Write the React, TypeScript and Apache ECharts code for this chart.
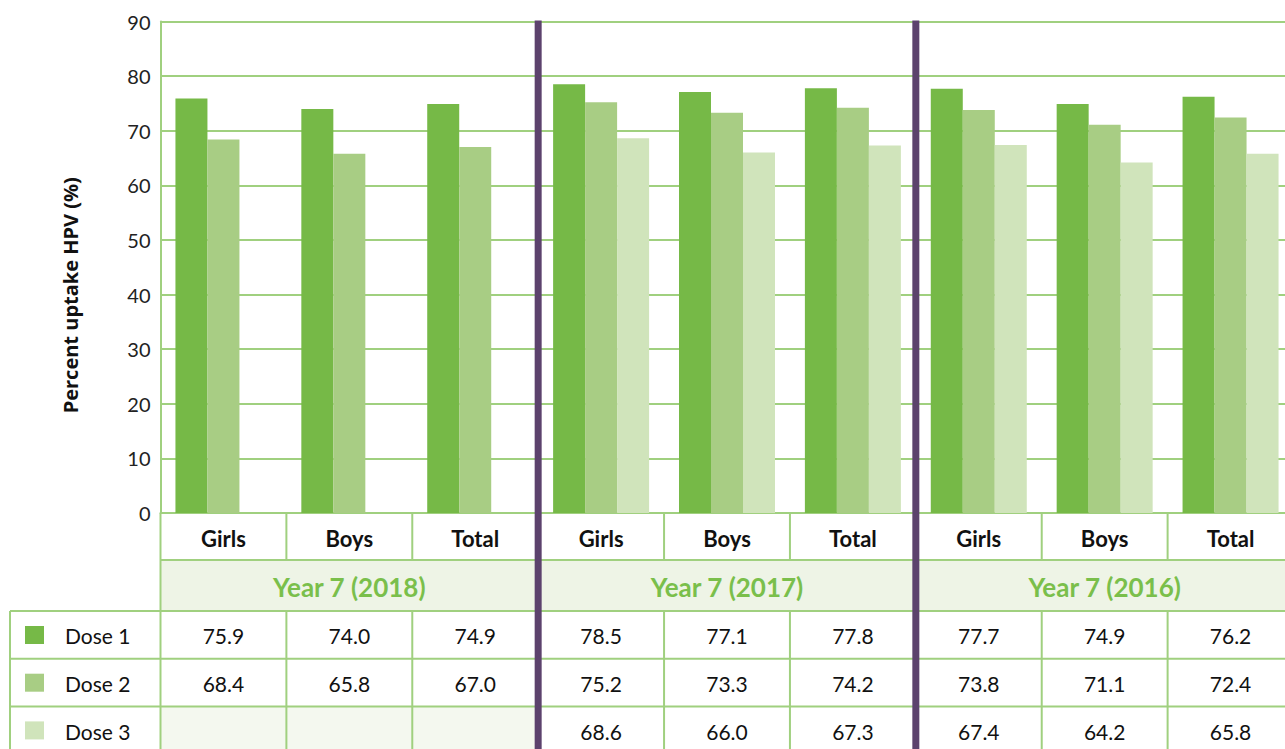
import React, { useEffect, useRef } from "react";
import * as echarts from "echarts";

const categories = ["Girls", "Boys", "Total", "Girls", "Boys", "Total", "Girls", "Boys", "Total"];
const years = ["Year 7 (2018)", "Year 7 (2017)", "Year 7 (2016)"];
const doseNames = ["Dose 1", "Dose 2", "Dose 3"];
const dose1 = [75.9, 74.0, 74.9, 78.5, 77.1, 77.8, 77.7, 74.9, 76.2];
const dose2 = [68.4, 65.8, 67.0, 75.2, 73.3, 74.2, 73.8, 71.1, 72.4];
const dose3 = [null, null, null, 68.6, 66.0, 67.3, 67.4, 64.2, 65.8];
const yMin = 0;
const yMax = 90;
const yInterval = 10;
const yTitle = "Percent uptake HPV (%)";

const doseData = [dose1, dose2, dose3];
const doseColors = ["#76b947", "#a8cd84", "#d0e4bb"];
const gridColor = "#a0d07f";
const purple = "#5c426d";
const FONT = "Lato";

export default function App() {
  const ref = useRef<HTMLDivElement>(null);
  useEffect(() => {
    const chart = echarts.init(ref.current!, null, { renderer: "svg" });
    const option: any = {
      animation: false,
      backgroundColor: "#ffffff",
      grid: { left: 160.5, top: 21.5, width: 1133, height: 491.5, containLabel: false },
      xAxis: {
        type: "category",
        data: categories,
        axisLine: { show: true, lineStyle: { color: gridColor, width: 2 } },
        axisTick: { show: false },
        axisLabel: {
          show: true,
          interval: 0,
          margin: 25,
          verticalAlign: "middle",
          fontFamily: FONT,
          fontWeight: "bold",
          fontSize: 22,
          color: "#111",
        },
        splitLine: { show: false },
      },
      yAxis: {
        type: "value",
        min: yMin,
        max: yMax,
        interval: yInterval,
        axisLine: { show: true, lineStyle: { color: gridColor, width: 2 } },
        axisTick: { show: false },
        axisLabel: { fontFamily: FONT, fontSize: 20, color: "#222", margin: 10 },
        splitLine: { show: true, lineStyle: { color: gridColor, width: 2 } },
      },
      series: doseNames.map((name, k) => ({
        name,
        type: "bar",
        data: doseData[k],
        barWidth: 32,
        barGap: "0%",
        itemStyle: { color: doseColors[k] },
        z: 2,
      })),
    };
    chart.setOption(option);

    const px = (i: number) => chart.convertToPixel({ xAxisIndex: 0 }, i) as number;
    const y0 = chart.convertToPixel({ yAxisIndex: 0 }, yMin) as number;
    const yTop = chart.convertToPixel({ yAxisIndex: 0 }, yMax) as number;
    const step = px(1) - px(0);
    const bound = (i: number) => px(0) - step / 2 + i * step;
    const right = 1320;
    const catBottom = y0 + 47;
    const yearBottom = y0 + 98;
    const rowH = 47.7;
    const rowTops = [yearBottom, yearBottom + rowH, yearBottom + 2 * rowH];
    const bottom = 760;
    const lineStyle = { stroke: gridColor, lineWidth: 2 };

    const els: any[] = [];
    els.push({ type: "rect", shape: { x: bound(0), y: catBottom, width: right - bound(0), height: yearBottom - catBottom }, style: { fill: "#eef4e6" }, z: 1 });
    doseData.forEach((arr, k) => {
      arr.forEach((v, i) => {
        if (v === null) {
          els.push({ type: "rect", shape: { x: bound(i), y: rowTops[k], width: step, height: rowH }, style: { fill: "#f4f8ef" }, z: 1 });
        }
      });
    });
    els.push({ type: "line", shape: { x1: bound(0), y1: catBottom, x2: right, y2: catBottom }, style: lineStyle, z: 5 });
    rowTops.forEach((t) => {
      els.push({ type: "line", shape: { x1: 10, y1: t, x2: right, y2: t }, style: lineStyle, z: 5 });
    });
    els.push({ type: "line", shape: { x1: 10, y1: yearBottom, x2: 10, y2: bottom }, style: lineStyle, z: 5 });
    els.push({ type: "line", shape: { x1: bound(0), y1: y0, x2: bound(0), y2: bottom }, style: lineStyle, z: 5 });
    for (let i = 1; i <= categories.length; i++) {
      els.push({ type: "line", shape: { x1: bound(i), y1: y0, x2: bound(i), y2: catBottom }, style: lineStyle, z: 5 });
      els.push({ type: "line", shape: { x1: bound(i), y1: yearBottom, x2: bound(i), y2: bottom }, style: lineStyle, z: 5 });
    }
    years.forEach((yr, g) => {
      els.push({
        type: "text",
        x: px(g * 3 + 1),
        y: (catBottom + yearBottom) / 2 + 1,
        style: { text: yr, fontFamily: FONT, fontWeight: "bold", fontSize: 26, fill: "#7abf4b", align: "center", verticalAlign: "middle" },
        z: 6,
      });
    });
    doseData.forEach((arr, k) => {
      arr.forEach((v, i) => {
        if (v !== null) {
          els.push({
            type: "text",
            x: px(i),
            y: rowTops[k] + rowH / 2 + 1,
            style: { text: v.toFixed(1), fontFamily: FONT, fontSize: 21, fill: "#111", align: "center", verticalAlign: "middle" },
            z: 6,
          });
        }
      });
      els.push({ type: "rect", shape: { x: 25, y: rowTops[k] + 15, width: 19, height: 18 }, style: { fill: doseColors[k] }, z: 6 });
      els.push({
        type: "text",
        x: 65,
        y: rowTops[k] + rowH / 2 + 1,
        style: { text: doseNames[k], fontFamily: FONT, fontSize: 21, fill: "#111", align: "left", verticalAlign: "middle" },
        z: 6,
      });
    });
    [3, 6].forEach((i) => {
      els.push({ type: "rect", shape: { x: bound(i) - 3.5, y: yTop - 1, width: 7, height: bottom - yTop }, style: { fill: purple }, z: 10 });
    });
    els.push({
      type: "text",
      x: 70,
      y: (y0 + yTop) / 2 + 28,
      rotation: Math.PI / 2,
      style: { text: yTitle, fontFamily: "Open Sans", fontWeight: "bold", fontSize: 20, fill: "#111", align: "center", verticalAlign: "middle" },
      z: 6,
    });
    chart.setOption({ graphic: els });

    return () => chart.dispose();
  }, []);

  return (
    <div style={{ position: "fixed", left: 0, top: 0, width: 1285, height: 749, overflow: "hidden", background: "#fff" }}>
      <div ref={ref} style={{ width: 1320, height: 749 }} />
    </div>
  );
}
